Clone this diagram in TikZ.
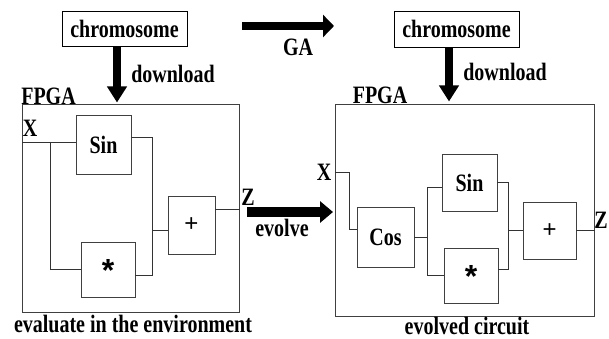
\documentclass[tikz,border=0pt]{standalone}
\usepackage{graphicx}
\usepackage{fontspec}
\setmainfont{Liberation Serif}
\newfontfamily\symsans{Liberation Sans}
\usetikzlibrary{arrows.meta}
\newcommand{\tstr}[1]{\scalebox{1}[1.25]{#1}}
\newcommand{\astk}{{\fontsize{32}{32}\selectfont\bfseries\raisebox{-12pt}[0pt][0pt]{*}}}
\begin{document}
\begin{tikzpicture}[x=1pt,y=-1pt,
  lbl/.style={font=\fontsize{20}{20}\selectfont\bfseries, inner sep=0pt},
  chrom/.style={lbl, draw=black, line width=0.9pt, minimum width=125pt, minimum height=35pt},
  fpga/.style={draw=black!75, line width=1pt, minimum width=#1, inner sep=0pt},
  blk/.style={lbl, draw=black!75, line width=0.9pt},
  op/.style={draw=black!75, line width=0.9pt, inner sep=0pt, font=\fontsize{24}{24}\selectfont\symsans},
  wire/.style={draw=black!80, line width=0.9pt},
  dl/.style={line width=8.5pt, -{Triangle[length=16pt,width=19pt]}},
  ga/.style={line width=8pt, -{Triangle[length=11pt,width=22pt]}},
  ev/.style={line width=10pt, -{Triangle[length=13pt,width=21pt]}}
]
\useasboundingbox (0,0) rectangle (609,339);

% chromosome boxes
\node[chrom] (chromL) at (124.5,28.5) {\tstr{chromosome}};
\node[chrom, minimum height=36pt] (chromR) at (456.5,29) {\tstr{chromosome}};

% FPGA boxes
\node[fpga=217pt, minimum height=207pt] (fpgaL) at (130.5,208.5) {};
\node[fpga=259pt, minimum height=211pt] (fpgaR) at (464.5,210.5) {};

% labels
\node[lbl] (fpgaLt) at (48.5,96) {\tstr{FPGA}};
\node[lbl] (fpgaRt) at (380,95) {\tstr{FPGA}};
\node[lbl] (dlL) at (173,74) {\tstr{download}};
\node[lbl] (dlR) at (505,72) {\tstr{download}};
\node[lbl] (gat) at (298,47) {\tstr{GA}};
\node[lbl] (evt) at (282,228) {\tstr{evolve}};
\node[lbl] (xL) at (30,128) {\tstr{X}};
\node[lbl] (zL) at (248,197) {\tstr{Z}};
\node[lbl] (xR) at (324,172) {\tstr{X}};
\node[lbl] (zR) at (601,220) {\tstr{Z}};
\node[lbl] (capL) at (133,324) {\tstr{evaluate in the environment}};
\node[lbl] (capR) at (467,326) {\tstr{evolved circuit}};

% big arrows
\draw[dl] ([xshift=-7.5pt]chromL.south) -- ([xshift=-13.5pt,yshift=2pt]fpgaL.north);
\draw[dl] ([xshift=-7.5pt]chromR.south) -- ([xshift=-15.5pt,yshift=3pt]fpgaR.north);
\coordinate (gaS) at (242,26);
\coordinate (gaE) at (334,26);
\draw[ga] (gaS) -- (gaE);
\coordinate (evS) at (247,212);
\coordinate (evE) at (333,212);
\draw[ev] (evS) -- (evE);

% left circuit
\node[blk, minimum width=55pt, minimum height=59pt] (sinL) at (103.5,144.5) {\tstr{Sin}};
\node[op, minimum width=54pt, minimum height=55pt] (mulL) at (108,269.5) {\astk};
\node[op, minimum width=47pt, minimum height=58pt] (addL) at (191.5,225) {+};
\coordinate (xinL) at (22,142);
\coordinate (jL1) at (50,142);
\draw[wire] (xinL) -- (xinL -| sinL.west);
\draw[wire] (jL1) |- (mulL.west);
\draw[wire] ([yshift=7.5pt]sinL.east) -- ++(21,0) |- ([yshift=-5.5pt]mulL.east);
\coordinate (mL) at (152,230);
\draw[wire] (mL) -- (mL -| addL.west);
\draw[wire] ([yshift=16pt]addL.east) -- ([yshift=16pt]addL.east -| fpgaL.east);

% right circuit
\node[blk, minimum width=57pt, minimum height=60pt] (cosR) at (385.5,237) {\tstr{Cos}};
\node[blk, minimum width=55pt, minimum height=57pt] (sinR) at (469.5,182.5) {\tstr{Sin}};
\node[op, minimum width=54pt, minimum height=55pt] (mulR) at (471,275.5) {\astk};
\node[op, minimum width=53pt, minimum height=57pt] (addR) at (549.5,230.5) {+};
\coordinate (xinR) at (335,172);
\draw[wire] (xinR) -- ++(14,0) |- ([yshift=8pt]cosR.west);
\draw[wire] (cosR.east) -- ++(13,0) coordinate (jR);
\draw[wire] ([yshift=-4.5pt]sinR.west) -| (jR |- mulR.west) -- (mulR.west);
\draw[wire] (sinR.east) -- ++(11,0) |- ([yshift=6.5pt]mulR.east);
\coordinate (mR) at (508,230.5);
\draw[wire] (mR) -- (addR.west);
\draw[wire] (addR.east) -- (addR.east -| fpgaR.east);
\end{tikzpicture}
\end{document}
